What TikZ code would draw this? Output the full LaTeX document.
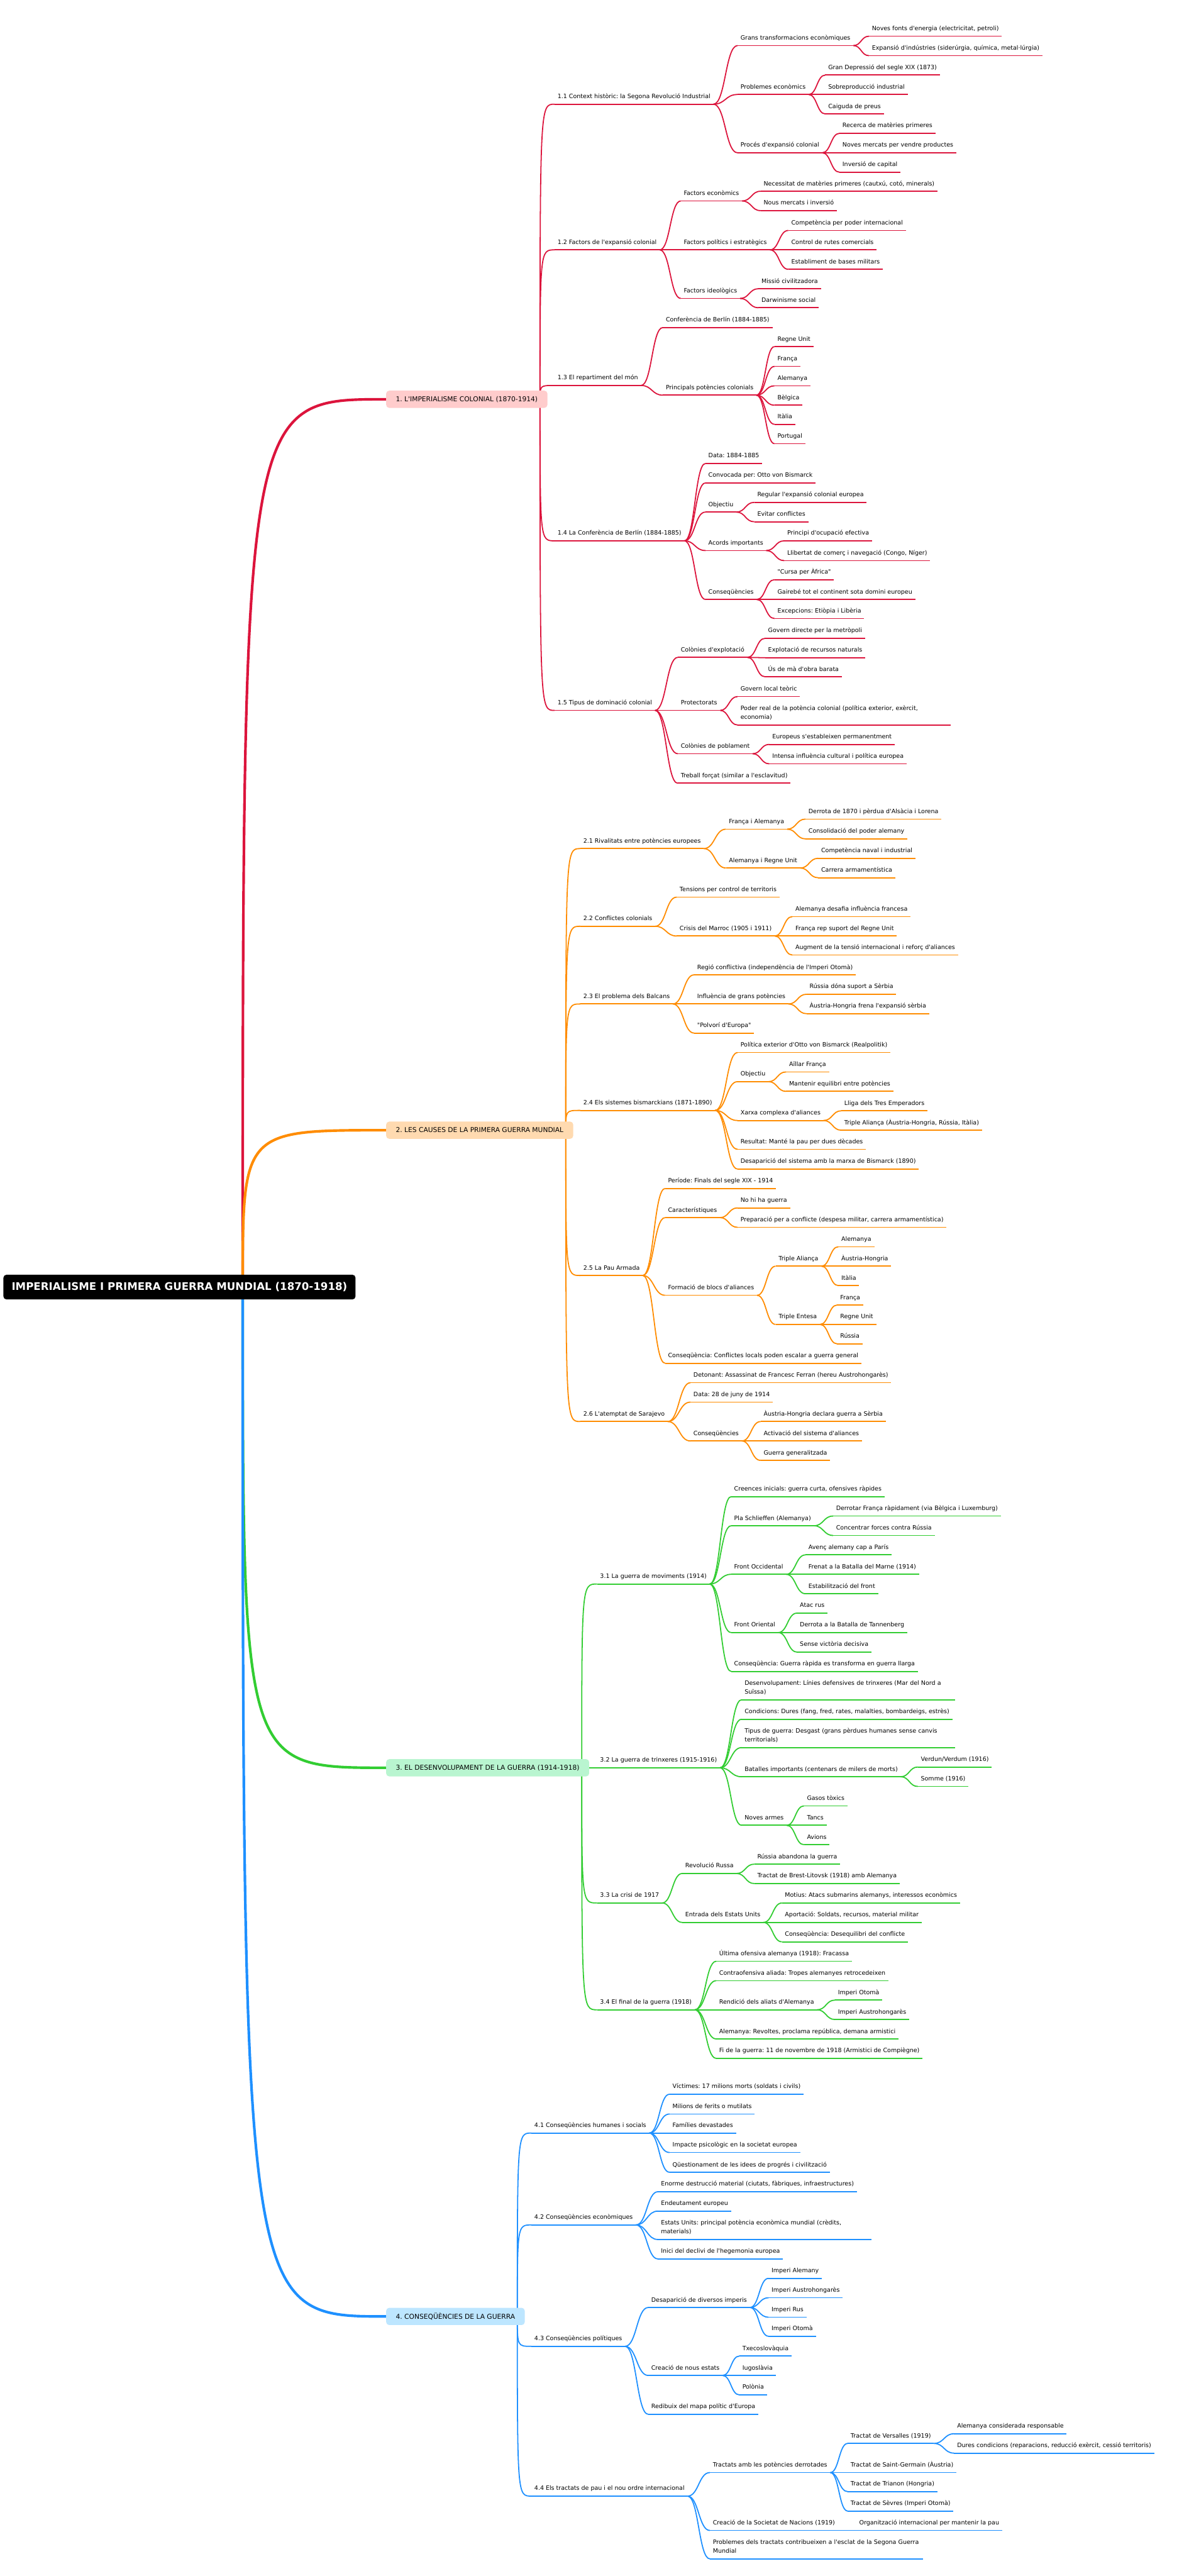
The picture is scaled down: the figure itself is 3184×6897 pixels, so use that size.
\documentclass[tikz,border=0pt]{standalone}
\usepackage{fontspec}
\newfontfamily\mmf{DejaVu Sans}
\usetikzlibrary{calc,backgrounds}
\definecolor{cr}{HTML}{DC143C}
\definecolor{co}{HTML}{FF8C00}
\definecolor{cg}{HTML}{32CD32}
\definecolor{cb}{HTML}{1E90FF}
\definecolor{fr}{HTML}{FFCCCC}
\definecolor{fo}{HTML}{FFDAB0}
\definecolor{fg}{HTML}{B9F5D0}
\definecolor{fb}{HTML}{BDE6FF}
\tikzset{
 lbl/.style={anchor=south west, inner xsep=8pt, inner ysep=0pt, text depth=15pt, text height=12pt, font=\mmf\frenchspacing\fontsize{16}{24}\selectfont, text=black},
 wide/.style={text width=555pt, align=left, text depth=39pt},
 ul/.style={line width=3pt, draw=#1},
 lnk/.style={line width=3pt},
 rl/.style={line width=7pt},
 mb/.style={anchor=west, rounded corners=8pt, inner xsep=26pt, minimum height=46pt, font=\mmf\frenchspacing\fontsize{18}{22}\selectfont, text=black},
}
\newcommand\nd[5]{\node[lbl] (#1) at (#2,#3) {#5};\draw[ul=#4] (#1.south west) -- (#1.south east);}
\newcommand\ndw[5]{\node[lbl,wide] (#1) at (#2,#3) {#5};\draw[ul=#4] (#1.south west) -- (#1.south east);}
\newcommand\lk[3]{\draw[lnk,#1] let \p1=(#2.south east), \p2=(#3.south west) in (\p1) .. controls ({0.5*\x1+0.5*\x2},\y1) and ({0.5*\x1+0.5*\x2},\y2) .. (\p2);}
\newcommand\mlk[3]{\draw[lnk,#1] let \p1=($(#2.east)+(-20,0)$), \p2=(#3.south west) in (\p1) .. controls (\x1,\y2) and (\x1,\y2) .. (\p2);}
\newcommand\rlk[2]{\draw[rl,#1] let \p1=(rs), \p2=(#2.west) in (\p1) .. controls (\x1,\y2) and (\x1,\y2) .. (\p2);}
\begin{document}
\frenchspacing
\begin{tikzpicture}[x=1pt,y=-1pt]
\useasboundingbox (0,0) rectangle (3184,6897);
\coordinate (rs) at (650,3446);
% root and main boxes
\node[anchor=west, fill=black, text=white, rounded corners=8pt, inner xsep=22pt, minimum height=66pt, font=\mmf\frenchspacing\bfseries\fontsize{28}{34}\selectfont] (root) at (9,3446) {IMPERIALISME I PRIMERA GUERRA MUNDIAL (1870-1918)};
\node[mb, fill=fr] (m1) at (1034,1069) {1. L'IMPERIALISME COLONIAL (1870-1914)};
\node[mb, fill=fo] (m2) at (1034,3026) {2. LES CAUSES DE LA PRIMERA GUERRA MUNDIAL};
\node[mb, fill=fg] (m3) at (1034,4733) {3. EL DESENVOLUPAMENT DE LA GUERRA (1914-1918)};
\node[mb, fill=fb] (m4) at (1034,6202) {4. CONSEQÜÈNCIES DE LA GUERRA};
% ---- branch 1
\nd{a1}{1485}{279}{cr}{1.1 Context històric: la Segona Revolució Industrial}
\nd{a11}{1975}{122}{cr}{Grans transformacions econòmiques}
\nd{a111}{2327}{97}{cr}{Noves fonts d'energia (electricitat, petroli)}
\nd{a112}{2327}{149}{cr}{Expansió d'indústries (siderúrgia, química, metal·lúrgia)}
\nd{a12}{1975}{253}{cr}{Problemes econòmics}
\nd{a121}{2210}{201}{cr}{Gran Depressió del segle XIX (1873)}
\nd{a122}{2210}{253}{cr}{Sobreproducció industrial}
\nd{a123}{2210}{305}{cr}{Caiguda de preus}
\nd{a13}{1975}{409}{cr}{Procés d'expansió colonial}
\nd{a131}{2248}{357}{cr}{Recerca de matèries primeres}
\nd{a132}{2248}{409}{cr}{Noves mercats per vendre productes}
\nd{a133}{2248}{461}{cr}{Inversió de capital}
\nd{a2}{1485}{669}{cr}{1.2 Factors de l'expansió colonial}
\nd{a21}{1823}{538}{cr}{Factors econòmics}
\nd{a211}{2037}{512}{cr}{Necessitat de matèries primeres (cautxú, cotó, minerals)}
\nd{a212}{2037}{564}{cr}{Nous mercats i inversió}
\nd{a22}{1823}{669}{cr}{Factors polítics i estratègics}
\nd{a221}{2111}{617}{cr}{Competència per poder internacional}
\nd{a222}{2111}{669}{cr}{Control de rutes comercials}
\nd{a223}{2111}{721}{cr}{Establiment de bases militars}
\nd{a23}{1823}{799}{cr}{Factors ideològics}
\nd{a231}{2031}{773}{cr}{Missió civilitzadora}
\nd{a232}{2031}{824}{cr}{Darwinisme social}
\nd{a3}{1485}{1032}{cr}{1.3 El repartiment del món}
\nd{a31}{1775}{877}{cr}{Conferència de Berlín (1884-1885)}
\nd{a32}{1775}{1058}{cr}{Principals potències colonials}
\nd{a321}{2074}{928}{cr}{Regne Unit}
\nd{a322}{2074}{981}{cr}{França}
\nd{a323}{2074}{1033}{cr}{Alemanya}
\nd{a324}{2074}{1085}{cr}{Bèlgica}
\nd{a325}{2074}{1136}{cr}{Itàlia}
\nd{a326}{2074}{1188}{cr}{Portugal}
\nd{a4}{1485}{1448}{cr}{1.4 La Conferència de Berlín (1884-1885)}
\nd{a41}{1889}{1241}{cr}{Data: 1884-1885}
\nd{a42}{1889}{1293}{cr}{Convocada per: Otto von Bismarck}
\nd{a43}{1889}{1371}{cr}{Objectiu}
\nd{a431}{2020}{1345}{cr}{Regular l'expansió colonial europea}
\nd{a432}{2020}{1397}{cr}{Evitar conflictes}
\nd{a44}{1889}{1474}{cr}{Acords importants}
\nd{a441}{2100}{1448}{cr}{Principi d'ocupació efectiva}
\nd{a442}{2100}{1501}{cr}{Llibertat de comerç i navegació (Congo, Níger)}
\nd{a45}{1889}{1605}{cr}{Conseqüències}
\nd{a451}{2074}{1552}{cr}{"Cursa per Àfrica"}
\nd{a452}{2074}{1605}{cr}{Gairebé tot el continent sota domini europeu}
\nd{a453}{2074}{1656}{cr}{Excepcions: Etiòpia i Libèria}
\nd{a5}{1485}{1902}{cr}{1.5 Tipus de dominació colonial}
\nd{a51}{1815}{1760}{cr}{Colònies d'explotació}
\nd{a511}{2049}{1709}{cr}{Govern directe per la metròpoli}
\nd{a512}{2049}{1761}{cr}{Explotació de recursos naturals}
\nd{a513}{2049}{1812}{cr}{Ús de mà d'obra barata}
\nd{a52}{1815}{1902}{cr}{Protectorats}
\nd{a521}{1975}{1865}{cr}{Govern local teòric}
\ndw{a522}{1975}{1941}{cr}{Poder real de la potència colonial (política exterior, exèrcit,\\economia)}
\nd{a53}{1815}{2018}{cr}{Colònies de poblament}
\nd{a531}{2060}{1993}{cr}{Europeus s'estableixen permanentment}
\nd{a532}{2060}{2045}{cr}{Intensa influència cultural i política europea}
\nd{a54}{1815}{2097}{cr}{Treball forçat (similar a l'esclavitud)}
% ---- branch 2
\nd{b1}{1554}{2272}{co}{2.1 Rivalitats entre potències europees}
\nd{b11}{1944}{2220}{co}{França i Alemanya}
\nd{b111}{2157}{2193}{co}{Derrota de 1870 i pèrdua d'Alsàcia i Lorena}
\nd{b112}{2157}{2246}{co}{Consolidació del poder alemany}
\nd{b12}{1944}{2324}{co}{Alemanya i Regne Unit}
\nd{b121}{2191}{2298}{co}{Competència naval i industrial}
\nd{b122}{2191}{2350}{co}{Carrera armamentística}
\nd{b2}{1554}{2480}{co}{2.2 Conflictes colonials}
\nd{b21}{1812}{2402}{co}{Tensions per control de territoris}
\nd{b22}{1812}{2506}{co}{Crisis del Marroc (1905 i 1911)}
\nd{b221}{2122}{2454}{co}{Alemanya desafia influència francesa}
\nd{b222}{2122}{2506}{co}{França rep suport del Regne Unit}
\nd{b223}{2122}{2557}{co}{Augment de la tensió internacional i reforç d'aliances}
\nd{b3}{1554}{2688}{co}{2.3 El problema dels Balcans}
\nd{b31}{1859}{2610}{co}{Regió conflictiva (independència de l'Imperi Otomà)}
\nd{b32}{1859}{2688}{co}{Influència de grans potències}
\nd{b321}{2160}{2662}{co}{Rússia dóna suport a Sèrbia}
\nd{b322}{2160}{2714}{co}{Àustria-Hongria frena l'expansió sèrbia}
\nd{b33}{1859}{2766}{co}{"Polvorí d'Europa"}
\nd{b4}{1554}{2973}{co}{2.4 Els sistemes bismarckians (1871-1890)}
\nd{b41}{1975}{2818}{co}{Política exterior d'Otto von Bismarck (Realpolitik)}
\nd{b42}{1975}{2896}{co}{Objectiu}
\nd{b421}{2105}{2870}{co}{Aïllar França}
\nd{b422}{2105}{2922}{co}{Mantenir equilibri entre potències}
\nd{b43}{1975}{3000}{co}{Xarxa complexa d'aliances}
\nd{b431}{2253}{2974}{co}{Lliga dels Tres Emperadors}
\nd{b432}{2253}{3026}{co}{Triple Aliança (Àustria-Hongria, Rússia, Itàlia)}
\nd{b44}{1975}{3077}{co}{Resultat: Manté la pau per dues dècades}
\nd{b45}{1975}{3130}{co}{Desaparició del sistema amb la marxa de Bismarck (1890)}
\nd{b5}{1554}{3415}{co}{2.5 La Pau Armada}
\nd{b51}{1781}{3182}{co}{Període: Finals del segle XIX - 1914}
\nd{b52}{1781}{3260}{co}{Característiques}
\nd{b521}{1975}{3234}{co}{No hi ha guerra}
\nd{b522}{1975}{3286}{co}{Preparació per a conflicte (despesa militar, carrera armamentística)}
\nd{b53}{1781}{3468}{co}{Formació de blocs d'aliances}
\nd{b531}{2077}{3390}{co}{Triple Aliança}
\nd{b5311}{2245}{3338}{co}{Alemanya}
\nd{b5312}{2245}{3390}{co}{Àustria-Hongria}
\nd{b5313}{2245}{3442}{co}{Itàlia}
\nd{b532}{2077}{3546}{co}{Triple Entesa}
\nd{b5321}{2242}{3494}{co}{França}
\nd{b5322}{2242}{3546}{co}{Regne Unit}
\nd{b5323}{2242}{3598}{co}{Rússia}
\nd{b54}{1781}{3650}{co}{Conseqüència: Conflictes locals poden escalar a guerra general}
\nd{b6}{1554}{3806}{co}{2.6 L'atemptat de Sarajevo}
\nd{b61}{1849}{3702}{co}{Detonant: Assassinat de Francesc Ferran (hereu Austrohongarès)}
\nd{b62}{1849}{3754}{co}{Data: 28 de juny de 1914}
\nd{b63}{1849}{3858}{co}{Conseqüències}
\nd{b631}{2037}{3806}{co}{Àustria-Hongria declara guerra a Sèrbia}
\nd{b632}{2037}{3858}{co}{Activació del sistema d'aliances}
\nd{b633}{2037}{3910}{co}{Guerra generalitzada}
% ---- branch 3
\nd{c1}{1599}{4241}{cg}{3.1 La guerra de moviments (1914)}
\nd{c11}{1958}{4007}{cg}{Creences inicials: guerra curta, ofensives ràpides}
\nd{c12}{1958}{4085}{cg}{Pla Schlieffen (Alemanya)}
\nd{c121}{2231}{4059}{cg}{Derrotar França ràpidament (via Bèlgica i Luxemburg)}
\nd{c122}{2231}{4111}{cg}{Concentrar forces contra Rússia}
\nd{c13}{1958}{4215}{cg}{Front Occidental}
\nd{c131}{2157}{4163}{cg}{Avenç alemany cap a París}
\nd{c132}{2157}{4215}{cg}{Frenat a la Batalla del Marne (1914)}
\nd{c133}{2157}{4267}{cg}{Estabilització del front}
\nd{c14}{1958}{4371}{cg}{Front Oriental}
\nd{c141}{2134}{4319}{cg}{Atac rus}
\nd{c142}{2134}{4371}{cg}{Derrota a la Batalla de Tannenberg}
\nd{c143}{2134}{4423}{cg}{Sense victòria decisiva}
\nd{c15}{1958}{4475}{cg}{Conseqüència: Guerra ràpida es transforma en guerra llarga}
\nd{c2}{1599}{4733}{cg}{3.2 La guerra de trinxeres (1915-1916)}
\ndw{c21}{1986}{4551}{cg}{Desenvolupament: Línies defensives de trinxeres (Mar del Nord a\\Suïssa)}
\nd{c22}{1986}{4603}{cg}{Condicions: Dures (fang, fred, rates, malalties, bombardeigs, estrès)}
\ndw{c23}{1986}{4679}{cg}{Tipus de guerra: Desgast (grans pèrdues humanes sense canvis\\territorials)}
\nd{c24}{1986}{4757}{cg}{Batalles importants (centenars de milers de morts)}
\nd{c241}{2458}{4731}{cg}{Verdun/Verdum (1916)}
\nd{c242}{2458}{4783}{cg}{Somme (1916)}
\nd{c25}{1986}{4887}{cg}{Noves armes}
\nd{c251}{2153}{4835}{cg}{Gasos tòxics}
\nd{c252}{2153}{4887}{cg}{Tancs}
\nd{c253}{2153}{4939}{cg}{Avions}
\nd{c3}{1599}{5095}{cg}{3.3 La crisi de 1917}
\nd{c31}{1827}{5016}{cg}{Revolució Russa}
\nd{c311}{2020}{4991}{cg}{Rússia abandona la guerra}
\nd{c312}{2020}{5043}{cg}{Tractat de Brest-Litovsk (1918) amb Alemanya}
\nd{c32}{1827}{5147}{cg}{Entrada dels Estats Units}
\nd{c321}{2094}{5095}{cg}{Motius: Atacs submarins alemanys, interessos econòmics}
\nd{c322}{2094}{5147}{cg}{Aportació: Soldats, recursos, material militar}
\nd{c323}{2094}{5199}{cg}{Conseqüència: Desequilibri del conflicte}
\nd{c4}{1599}{5381}{cg}{3.4 El final de la guerra (1918)}
\nd{c41}{1918}{5251}{cg}{Última ofensiva alemanya (1918): Fracassa}
\nd{c42}{1918}{5303}{cg}{Contraofensiva aliada: Tropes alemanyes retrocedeixen}
\nd{c43}{1918}{5381}{cg}{Rendició dels aliats d'Alemanya}
\nd{c431}{2236}{5355}{cg}{Imperi Otomà}
\nd{c432}{2236}{5407}{cg}{Imperi Austrohongarès}
\nd{c44}{1918}{5459}{cg}{Alemanya: Revoltes, proclama república, demana armistici}
\nd{c45}{1918}{5511}{cg}{Fi de la guerra: 11 de novembre de 1918 (Armistici de Compiègne)}
% ---- branch 4
\nd{d1}{1423}{5711}{cb}{4.1 Conseqüències humanes i socials}
\nd{d11}{1793}{5607}{cb}{Víctimes: 17 milions morts (soldats i civils)}
\nd{d12}{1793}{5660}{cb}{Milions de ferits o mutilats}
\nd{d13}{1793}{5711}{cb}{Famílies devastades}
\nd{d14}{1793}{5763}{cb}{Impacte psicològic en la societat europea}
\nd{d15}{1793}{5816}{cb}{Qüestionament de les idees de progrés i civilització}
\nd{d2}{1423}{5957}{cb}{4.2 Conseqüències econòmiques}
\nd{d21}{1762}{5868}{cb}{Enorme destrucció material (ciutats, fàbriques, infraestructures)}
\nd{d22}{1762}{5920}{cb}{Endeutament europeu}
\ndw{d23}{1762}{5996}{cb}{Estats Units: principal potència econòmica mundial (crèdits,\\materials)}
\nd{d24}{1762}{6048}{cb}{Inici del declivi de l'hegemonia europea}
\nd{d3}{1423}{6282}{cb}{4.3 Conseqüències polítiques}
\nd{d31}{1736}{6178}{cb}{Desaparició de diversos imperis}
\nd{d311}{2058}{6100}{cb}{Imperi Alemany}
\nd{d312}{2058}{6152}{cb}{Imperi Austrohongarès}
\nd{d313}{2058}{6204}{cb}{Imperi Rus}
\nd{d314}{2058}{6255}{cb}{Imperi Otomà}
\nd{d32}{1736}{6360}{cb}{Creació de nous estats}
\nd{d321}{1980}{6308}{cb}{Txecoslovàquia}
\nd{d322}{1980}{6360}{cb}{Iugoslàvia}
\nd{d323}{1980}{6412}{cb}{Polònia}
\nd{d33}{1736}{6464}{cb}{Redibuix del mapa polític d'Europa}
\nd{d4}{1423}{6683}{cb}{4.4 Els tractats de pau i el nou ordre internacional}
\nd{d41}{1901}{6620}{cb}{Tractats amb les potències derrotades}
\nd{d411}{2270}{6542}{cb}{Tractat de Versalles (1919)}
\nd{d4111}{2555}{6516}{cb}{Alemanya considerada responsable}
\nd{d4112}{2555}{6568}{cb}{Dures condicions (reparacions, reducció exèrcit, cessió territoris)}
\nd{d412}{2270}{6620}{cb}{Tractat de Saint-Germain (Àustria)}
\nd{d413}{2270}{6671}{cb}{Tractat de Trianon (Hongria)}
\nd{d414}{2270}{6723}{cb}{Tractat de Sèvres (Imperi Otomà)}
\nd{d42}{1901}{6775}{cb}{Creació de la Societat de Nacions (1919)}
\nd{d421}{2293}{6775}{cb}{Organització internacional per mantenir la pau}
\ndw{d43}{1901}{6851}{cb}{Problemes dels tractats contribueixen a l'esclat de la Segona Guerra\\Mundial}
% ---- connectors
\begin{pgfonlayer}{background}
\fill[white] (0,0) rectangle (3184,6897);
\rlk{cr}{m1}\rlk{co}{m2}\rlk{cg}{m3}\rlk{cb}{m4}
\foreach \ch in {a1,a2,a3,a4,a5} {\mlk{cr}{m1}{\ch}}
\foreach \ch in {b1,b2,b3,b4,b5,b6} {\mlk{co}{m2}{\ch}}
\foreach \ch in {c1,c2,c3,c4} {\mlk{cg}{m3}{\ch}}
\foreach \ch in {d1,d2,d3,d4} {\mlk{cb}{m4}{\ch}}
\foreach \pa/\ch in {a1/a11,a1/a12,a1/a13,a11/a111,a11/a112,a12/a121,a12/a122,a12/a123,a13/a131,a13/a132,a13/a133,
 a2/a21,a2/a22,a2/a23,a21/a211,a21/a212,a22/a221,a22/a222,a22/a223,a23/a231,a23/a232,
 a3/a31,a3/a32,a32/a321,a32/a322,a32/a323,a32/a324,a32/a325,a32/a326,
 a4/a41,a4/a42,a4/a43,a4/a44,a4/a45,a43/a431,a43/a432,a44/a441,a44/a442,a45/a451,a45/a452,a45/a453,
 a5/a51,a5/a52,a5/a53,a5/a54,a51/a511,a51/a512,a51/a513,a52/a521,a52/a522,a53/a531,a53/a532} {\lk{cr}{\pa}{\ch}}
\foreach \pa/\ch in {b1/b11,b1/b12,b11/b111,b11/b112,b12/b121,b12/b122,
 b2/b21,b2/b22,b22/b221,b22/b222,b22/b223,
 b3/b31,b3/b32,b3/b33,b32/b321,b32/b322,
 b4/b41,b4/b42,b4/b43,b4/b44,b4/b45,b42/b421,b42/b422,b43/b431,b43/b432,
 b5/b51,b5/b52,b5/b53,b5/b54,b52/b521,b52/b522,b53/b531,b53/b532,b531/b5311,b531/b5312,b531/b5313,b532/b5321,b532/b5322,b532/b5323,
 b6/b61,b6/b62,b6/b63,b63/b631,b63/b632,b63/b633} {\lk{co}{\pa}{\ch}}
\foreach \pa/\ch in {c1/c11,c1/c12,c1/c13,c1/c14,c1/c15,c12/c121,c12/c122,c13/c131,c13/c132,c13/c133,c14/c141,c14/c142,c14/c143,
 c2/c21,c2/c22,c2/c23,c2/c24,c2/c25,c24/c241,c24/c242,c25/c251,c25/c252,c25/c253,
 c3/c31,c3/c32,c31/c311,c31/c312,c32/c321,c32/c322,c32/c323,
 c4/c41,c4/c42,c4/c43,c4/c44,c4/c45,c43/c431,c43/c432} {\lk{cg}{\pa}{\ch}}
\foreach \pa/\ch in {d1/d11,d1/d12,d1/d13,d1/d14,d1/d15,
 d2/d21,d2/d22,d2/d23,d2/d24,
 d3/d31,d3/d32,d3/d33,d31/d311,d31/d312,d31/d313,d31/d314,d32/d321,d32/d322,d32/d323,
 d4/d41,d4/d42,d4/d43,d41/d411,d41/d412,d41/d413,d41/d414,d411/d4111,d411/d4112,d42/d421} {\lk{cb}{\pa}{\ch}}
\end{pgfonlayer}
\end{tikzpicture}
\end{document}
